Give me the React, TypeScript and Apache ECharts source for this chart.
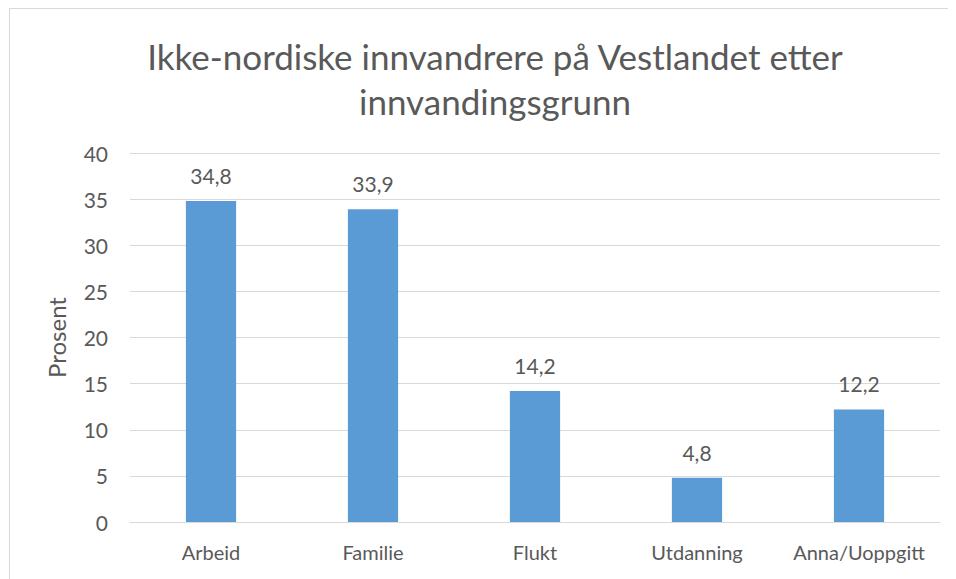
import React, { useEffect, useRef } from "react";
import * as echarts from "echarts";

const categories = ["Arbeid", "Familie", "Flukt", "Utdanning", "Anna/Uoppgitt"];
const values = [34.8, 33.9, 14.2, 4.8, 12.2];
const titleText = "Ikke-nordiske innvandrere på Vestlandet etter\ninnvandingsgrunn";
const yAxisName = "Prosent";

const FONT = "Lato, 'Open Sans', sans-serif";
const TXT = "#595959";

export default function App() {
  const ref = useRef<HTMLDivElement>(null);
  useEffect(() => {
    if (!ref.current) return;
    const chart = echarts.init(ref.current, null, { renderer: "svg" });
    chart.setOption({
      animation: false,
      backgroundColor: "#ffffff",
      title: {
        text: titleText,
        left: 482,
        textAlign: "center",
        top: 20,
        textStyle: {
          fontFamily: FONT,
          fontSize: 35,
          fontWeight: "normal",
          color: TXT,
          lineHeight: 45,
        },
      },
      graphic: [
        { type: "line", shape: { x1: 1.5, y1: 0, x2: 1.5, y2: 571 }, style: { stroke: "#d9d9d9", lineWidth: 1 } },
        { type: "line", shape: { x1: 1, y1: 0.5, x2: 948, y2: 0.5 }, style: { stroke: "#d9d9d9", lineWidth: 1 } },
      ],
      grid: { left: 122, right: 16, top: 145, bottom: 57 },
      xAxis: {
        type: "category",
        data: categories,
        axisLine: { show: true, lineStyle: { color: "#d9d9d9", width: 1 } },
        axisTick: { show: false },
        axisLabel: { color: TXT, fontFamily: FONT, fontSize: 20, margin: 20, interval: 0 },
      },
      yAxis: {
        type: "value",
        min: 0,
        max: 40,
        interval: 5,
        name: yAxisName,
        nameLocation: "middle",
        nameGap: 62,
        nameTextStyle: { color: TXT, fontFamily: FONT, fontSize: 24 },
        axisLine: { show: false },
        axisTick: { show: false },
        splitLine: { lineStyle: { color: "#d9d9d9", width: 1 } },
        axisLabel: { color: TXT, fontFamily: FONT, fontSize: 21, margin: 22 },
      },
      series: [
        {
          type: "bar",
          data: values,
          barWidth: "31%",
          itemStyle: { color: "#5B9BD5" },
          label: {
            show: true,
            position: "top",
            distance: 15,
            color: TXT,
            fontFamily: FONT,
            fontSize: 21,
            formatter: (p: any) => String(p.value).replace(".", ","),
          },
        },
      ],
    });
    return () => chart.dispose();
  }, []);
  return <div ref={ref} style={{ width: 948, height: 571 }} />;
}
